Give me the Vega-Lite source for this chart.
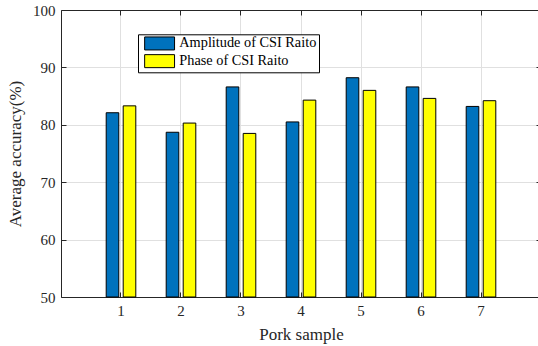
{
  "$schema": "https://vega.github.io/schema/vega-lite/v6.json",
  "width": 480,
  "height": 287,
  "autosize": {"type": "none"},
  "padding": {"left": 61, "top": 10, "right": 0, "bottom": 49},
  "background": "white",
  "config": {
    "view": {"stroke": null},
    "font": "Liberation Serif",
    "axis": {
      "domainColor": "#262626",
      "tickColor": "#262626",
      "labelColor": "#262626",
      "titleColor": "#262626",
      "labelFont": "Liberation Serif",
      "titleFont": "Liberation Serif",
      "labelFontSize": 15,
      "titleFontSize": 17,
      "titleFontWeight": "normal",
      "gridColor": "#e0e0e0",
      "tickSize": -5,
      "domainWidth": 1,
      "tickWidth": 1
    }
  },
  "data": {
    "values": [
      {"sample": "1", "series": "Amplitude of CSI Raito", "value": 82.1},
      {"sample": "1", "series": "Phase of CSI Raito", "value": 83.3},
      {"sample": "2", "series": "Amplitude of CSI Raito", "value": 78.7},
      {"sample": "2", "series": "Phase of CSI Raito", "value": 80.3},
      {"sample": "3", "series": "Amplitude of CSI Raito", "value": 86.6},
      {"sample": "3", "series": "Phase of CSI Raito", "value": 78.5},
      {"sample": "4", "series": "Amplitude of CSI Raito", "value": 80.5},
      {"sample": "4", "series": "Phase of CSI Raito", "value": 84.3},
      {"sample": "5", "series": "Amplitude of CSI Raito", "value": 88.2},
      {"sample": "5", "series": "Phase of CSI Raito", "value": 86.0},
      {"sample": "6", "series": "Amplitude of CSI Raito", "value": 86.6},
      {"sample": "6", "series": "Phase of CSI Raito", "value": 84.6},
      {"sample": "7", "series": "Amplitude of CSI Raito", "value": 83.2},
      {"sample": "7", "series": "Phase of CSI Raito", "value": 84.2}
    ]
  },
  "layer": [
    {
      "mark": {"type": "bar", "stroke": "black", "strokeWidth": 1},
      "encoding": {
        "x": {
          "field": "sample",
          "type": "ordinal",
          "scale": {"paddingInner": 0.5067, "paddingOuter": 0.7533},
          "axis": {"title": "Pork sample", "labelAngle": 0, "labelPadding": 11, "titlePadding": 8, "grid": true, "domain": true}
        },
        "xOffset": {
          "field": "series",
          "type": "nominal",
          "sort": ["Amplitude of CSI Raito", "Phase of CSI Raito"],
          "scale": {"paddingInner": 0.259, "paddingOuter": 0}
        },
        "y": {
          "field": "value",
          "type": "quantitative",
          "scale": {"domain": [50, 100], "nice": false, "zero": false},
          "axis": {"title": "Average accuracy(%)", "values": [50, 60, 70, 80, 90, 100], "labelPadding": 11, "titlePadding": 8, "grid": true}
        },
        "y2": {"datum": 50},
        "color": {
          "field": "series",
          "type": "nominal",
          "scale": {"domain": ["Amplitude of CSI Raito", "Phase of CSI Raito"], "range": ["#0072BD", "#FFFF00"]},
          "legend": {
            "title": null,
            "orient": "none",
            "legendX": 77,
            "legendY": 24.3,
            "direction": "vertical",
            "fillColor": "white",
            "strokeColor": "black",
            "padding": 2,
            "symbolOffset": 4,
            "symbolType": "M-1,-1H3.6V1H-1Z",
            "symbolSize": 169,
            "symbolStrokeColor": "black",
            "symbolStrokeWidth": 1,
            "symbolOpacity": 1,
            "labelFont": "Liberation Serif",
            "labelFontSize": 14.3,
            "labelColor": "black",
            "labelOffset": 21,
            "rowPadding": -0.3
          }
        }
      }
    },
    {
      "mark": {"type": "bar", "opacity": 0},
      "encoding": {
        "x": {
          "field": "sample",
          "type": "ordinal",
          "axis": {"orient": "top", "title": null, "labels": false, "grid": false}
        },
        "y": {
          "field": "value",
          "type": "quantitative",
          "axis": {"orient": "right", "title": null, "labels": false, "grid": false, "values": [50, 60, 70, 80, 90, 100]}
        },
        "y2": {"datum": 50}
      }
    }
  ],
  "resolve": {"axis": {"x": "independent", "y": "independent"}}
}
